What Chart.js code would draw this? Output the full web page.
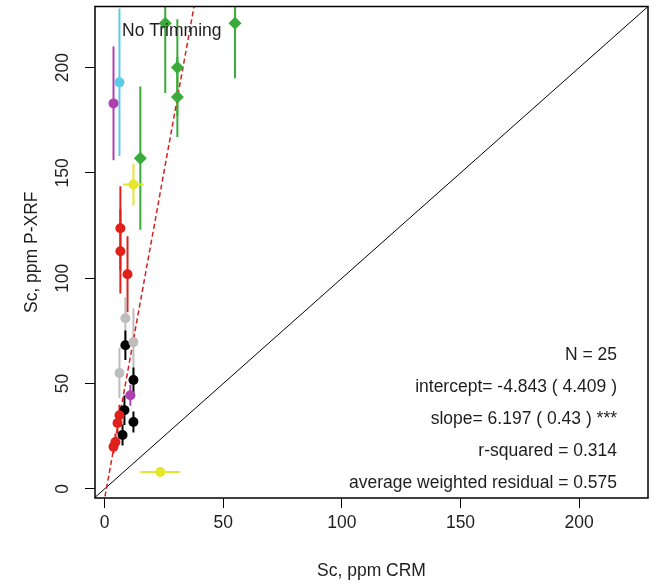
<!DOCTYPE html>
<html>
<head>
<meta charset="utf-8">
<title>Sc P-XRF vs CRM</title>
<style>
html,body{margin:0;padding:0;background:#fff;}
canvas{display:block;}
</style>
</head>
<body>
<canvas id="chart" width="657" height="588"></canvas>
<script src="https://cdn.jsdelivr.net/npm/chart.js"></script>
<script>
// ---- data ----
const xTicks = [0, 50, 100, 150, 200];
const yTicks = [0, 50, 100, 150, 200];

const greenX    = [55, 30.7, 30.7, 25.6, 15.1];
const greenY    = [221, 200, 186, 221, 157];
const greenXErr = [0, 0, 0, 0, 0];
const greenYErr = [26, 23, 19, 33, 34];

const cyanX    = [6.3];
const cyanY    = [193];
const cyanXErr = [0];
const cyanYErr = [35];

const magentaX    = [3.8, 10.9];
const magentaY    = [183, 44.5];
const magentaXErr = [0, 2];
const magentaYErr = [27, 5];

const yellowX    = [12.2, 23.5];
const yellowY    = [144.5, 8];
const yellowXErr = [4.4, 8.4];
const yellowYErr = [10, 0];

const redX    = [6.7, 6.7, 9.7, 6.3, 5.5, 4.6, 3.8];
const redY    = [123.7, 112.8, 101.9, 35, 31.3, 22.3, 20];
const redXErr = [0, 0, 0, 0, 0, 0, 0];
const redYErr = [20, 20, 18, 5, 5, 4, 3];

const grayX    = [8.8, 12.2, 6.3];
const grayY    = [81, 69.7, 55];
const grayXErr = [0, 0, 0];
const grayYErr = [10, 16, 12];

const blackX    = [8.8, 12.2, 8.4, 12.2, 7.6];
const blackY    = [68.2, 51.7, 37.4, 31.8, 25.6];
const blackXErr = [0, 0, 0, 0, 0];
const blackYErr = [7, 6, 7, 5, 5];

const fitIntercept = -4.843;
const fitSlope = 6.197;
const fitXRange = [-1, 40];
const oneToOne = [-10, 240];

const statLines = [
  'N = 25',
  'intercept= -4.843 ( 4.409 )',
  'slope= 6.197 ( 0.43 ) ***',
  'r-squared = 0.314',
  'average weighted residual = 0.575'
];
const panelTitle = 'No Trimming';

// ---- helpers ----
const FONT = '"Liberation Sans", Arial, sans-serif';
Chart.defaults.font.family = FONT;
Chart.defaults.font.size = 17.5;
Chart.defaults.color = '#1e1e1e';

function group(xs, ys, xe, ye, color, shape, r){
  return {
    type:'scatter',
    data: xs.map((x,i)=>({x:x, y:ys[i]})),
    err: {x:xe, y:ye},
    backgroundColor: color, borderColor: color,
    pointStyle: shape, pointRadius: r, pointBorderWidth: 0,
    order: 1
  };
}

/* error bars under the points, clipped to the plot box */
const errorBars = {
  id:'errorBars',
  beforeDatasetsDraw(chart){
    const {ctx, chartArea:a, scales:{x, y}} = chart;
    ctx.save();
    ctx.beginPath(); ctx.rect(a.left, a.top, a.width, a.height); ctx.clip();
    ctx.lineWidth = 2;
    chart.data.datasets.forEach(ds=>{
      if(!ds.err) return;
      ctx.strokeStyle = ds.borderColor;
      ds.data.forEach((p,i)=>{
        const ex = ds.err.x[i], ey = ds.err.y[i];
        ctx.beginPath();
        if(ey){
          ctx.moveTo(x.getPixelForValue(p.x), y.getPixelForValue(p.y-ey));
          ctx.lineTo(x.getPixelForValue(p.x), y.getPixelForValue(p.y+ey));
        }
        if(ex){
          ctx.moveTo(x.getPixelForValue(p.x-ex), y.getPixelForValue(p.y));
          ctx.lineTo(x.getPixelForValue(p.x+ex), y.getPixelForValue(p.y));
        }
        ctx.stroke();
      });
    });
    ctx.restore();
  }
};

/* box round the plot + text */
const boxAndText = {
  id:'boxAndText',
  afterDraw(chart){
    const {ctx, chartArea:a} = chart;
    ctx.save();
    ctx.strokeStyle = '#000'; ctx.lineWidth = 1.5;
    ctx.strokeRect(a.left, a.top, a.width, a.height);
    ctx.fillStyle = '#1e1e1e';
    ctx.font = '17.5px ' + FONT;
    ctx.textBaseline = 'middle';
    ctx.textAlign = 'left';
    ctx.fillText(panelTitle, a.left + 27, a.top + 25);
    ctx.textAlign = 'right';
    statLines.forEach((t,i)=> ctx.fillText(t, a.right - 31, a.top + 349 + i*32));
    ctx.restore();
  }
};

const datasets = [
  {type:'line', data: oneToOne.map(v=>({x:v, y:v})), borderColor:'#000', borderWidth:1,
   pointRadius:0, fill:false, order:3},
  {type:'line', data: fitXRange.map(v=>({x:v, y:fitIntercept + fitSlope*v})),
   borderColor:'#d42020', borderWidth:1.5, borderDash:[5,3], pointRadius:0, fill:false, order:2},
  group(greenX, greenY, greenXErr, greenYErr, '#3aab3a', 'rectRot', 6.5),
  group(cyanX, cyanY, cyanXErr, cyanYErr, '#5ecbe6', 'circle', 5),
  group(magentaX, magentaY, magentaXErr, magentaYErr, '#b040b0', 'circle', 5),
  group(yellowX, yellowY, yellowXErr, yellowYErr, '#e6e62a', 'circle', 5),
  group(redX, redY, redXErr, redYErr, '#e0201b', 'circle', 5),
  group(grayX, grayY, grayXErr, grayYErr, '#bdbdbd', 'circle', 5),
  group(blackX, blackY, blackXErr, blackYErr, '#000', 'circle', 5)
];

new Chart(document.getElementById('chart'), {
  type:'scatter',
  data:{datasets},
  options:{
    responsive:false,
    animation:false,
    layout:{padding:{top:5, right:9, left:0, bottom:0}},
    plugins:{legend:{display:false}, tooltip:{enabled:false}},
    scales:{
      x:{
        type:'linear', min:-4, max:229,
        afterBuildTicks:s=>{ s.ticks = xTicks.map(v=>({value:v})); },
        afterFit:s=>{ s.height = 90; s.paddingLeft = 0; s.paddingRight = 0; },
        border:{display:false},
        grid:{drawOnChartArea:false, drawTicks:true, tickLength:10, color:'#000', lineWidth:1},
        ticks:{maxRotation:0, padding:5},
        title:{display:true, text:'Sc, ppm CRM', padding:{top:0, bottom:6}}
      },
      y:{
        type:'linear', min:-4.3, max:229,
        afterBuildTicks:s=>{ s.ticks = yTicks.map(v=>({value:v})); },
        afterFit:s=>{ s.width = 95; s.paddingTop = 0; s.paddingBottom = 0; },
        border:{display:false},
        grid:{drawOnChartArea:false, drawTicks:true, tickLength:10, color:'#000', lineWidth:1},
        ticks:{minRotation:90, maxRotation:90, crossAlign:'center', padding:7},
        title:{display:true, text:'Sc, ppm P-XRF', padding:{top:22, bottom:0}}
      }
    }
  },
  plugins:[errorBars, boxAndText]
});
</script>
</body>
</html>
